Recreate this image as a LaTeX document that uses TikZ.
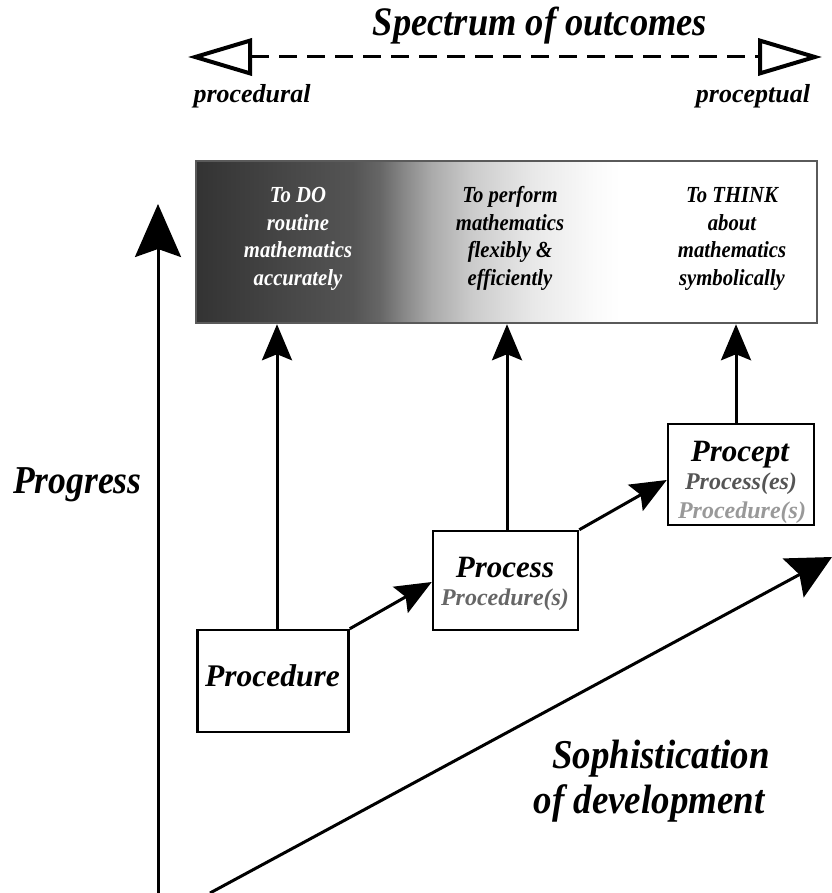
\documentclass[tikz,border=0pt]{standalone}
\usepackage{fontspec}
\setmainfont{Liberation Serif}
\newfontfamily\condfont[FakeStretch=0.9]{Liberation Serif}
\usetikzlibrary{arrows.meta,calc}
\definecolor{midgray}{HTML}{666666}
\definecolor{darkgray}{HTML}{555555}
\definecolor{lightgray}{HTML}{999999}
\definecolor{frame}{HTML}{5A5A5A}
\pgfdeclarehorizontalshading{outshade}{100bp}{rgb(0bp)=(0.2,0.2,0.2); rgb(25bp)=(0.2,0.2,0.2); rgb(32.6bp)=(0.28,0.28,0.28); rgb(37.6bp)=(0.33,0.33,0.33); rgb(39.8bp)=(0.4,0.4,0.4); rgb(41.7bp)=(0.53,0.53,0.53); rgb(44bp)=(0.67,0.67,0.67); rgb(47.3bp)=(0.8,0.8,0.8); rgb(52.1bp)=(0.91,0.91,0.91); rgb(57bp)=(0.98,0.98,0.98); rgb(59.1bp)=(1,1,1); rgb(100bp)=(1,1,1)}
\begin{document}
\begin{tikzpicture}[x=1pt,y=-1pt,
  fs/.style={font=\fontsize{#1}{#1}\selectfont\bfseries\itshape},
  cfs/.style={font=\condfont\fontsize{#1}{#1}\selectfont\bfseries\itshape},
  stagebox/.style={draw=black, line width=2.5pt, fill=white, inner sep=0pt},
  txt/.style={anchor=base, inner sep=0pt},
  conn/.style={line width=3pt, -{Stealth[length=36pt,width=30pt,inset=6pt]}},
  opentri/.tip={Triangle[open,length=64pt,width=37pt,line width=4pt]},
]
\useasboundingbox (0,0) rectangle (831,893);

% spectrum
\coordinate (sl) at (188,57);
\coordinate (sr) at (822,57);
\draw[line width=3pt, dash pattern=on 18pt off 10pt, {opentri}-{opentri}] (sl) -- (sr);
\node[txt, cfs=40.5] (title) at (540,36) {Spectrum of outcomes};
\node[txt, fs=26] (procedural) at (252,103) {procedural};
\node[txt, fs=26] (proceptual) at (753,103) {proceptual};

% outcome band
\node[draw=frame, line width=2.5pt, shading=outshade, minimum width=621pt, minimum height=162pt, inner sep=0pt] (band) at (506.5,242) {};
\node[txt, cfs=23, white] (c1a) at (298,203) {To DO};
\node[txt, cfs=23, white] (c1b) at (298,231) {routine};
\node[txt, cfs=23, white] (c1c) at (298,258) {mathematics};
\node[txt, cfs=23, white] (c1d) at (298,285) {accurately};
\node[txt, cfs=23] (c2a) at (510,203) {To perform};
\node[txt, cfs=23] (c2b) at (510,231) {mathematics};
\node[txt, cfs=23] (c2c) at (510,258) {flexibly \&};
\node[txt, cfs=23] (c2d) at (510,285) {efficiently};
\node[txt, cfs=23] (c3a) at (732,203) {To THINK};
\node[txt, cfs=23] (c3b) at (732,231) {about};
\node[txt, cfs=23] (c3c) at (732,258) {mathematics};
\node[txt, cfs=23] (c3d) at (732,285) {symbolically};

% stage boxes
\node[stagebox, minimum width=151pt, minimum height=102pt] (proc) at (273,681) {};
\node[txt, fs=31.5] (proct) at (272.5,686) {Procedure};
\node[stagebox, minimum width=145pt, minimum height=99pt] (pcs) at (505.5,580.5) {};
\node[txt, fs=31] (pcst) at (505,577) {Process};
\node[txt, fs=24, midgray] (pcss) at (505,605) {Procedure(s)};
\node[stagebox, minimum width=146pt, minimum height=101pt] (pct) at (741,474.5) {};
\node[txt, fs=31] (pctt) at (740,461) {Procept};
\node[txt, fs=24, darkgray] (pcts) at (741,489) {Process(es)};
\node[txt, fs=24, lightgray] (pctu) at (742,518) {Procedure(s)};

% connectors up to the band
\draw[conn] ([xshift=4pt]proc.north) -- ([xshift=4pt]proc.north |- band.south);
\draw[conn] ([xshift=1.5pt]pcs.north) -- ([xshift=1.5pt]pcs.north |- band.south);
\draw[conn] ([xshift=-5pt]pct.north) -- ([xshift=-5pt]pct.north |- band.south);
% connectors between stages
\draw[conn] (proc.north east) -- ([yshift=-1.5pt]pcs.west);
\draw[conn] (pcs.north east) -- ([yshift=-5.5pt]pct.west);

% axes
\coordinate (pb) at (158,893);
\coordinate (pt) at (158,204);
\draw[line width=3pt, -{Stealth[length=53pt,width=46pt,inset=8pt]}] (pb) -- (pt);
\node[txt, cfs=39.5, anchor=base west] (progress) at (13,493) {Progress};
\coordinate (sb) at (210,893);
\coordinate (st) at (832,557);
\draw[line width=3pt, -{Stealth[length=44pt,width=44pt,inset=7pt]}] (sb) -- (st);
\node[txt, cfs=41] (soph1) at (661,768) {Sophistication};
\node[txt, cfs=41] (soph2) at (649,813) {of development};
\end{tikzpicture}
\end{document}
